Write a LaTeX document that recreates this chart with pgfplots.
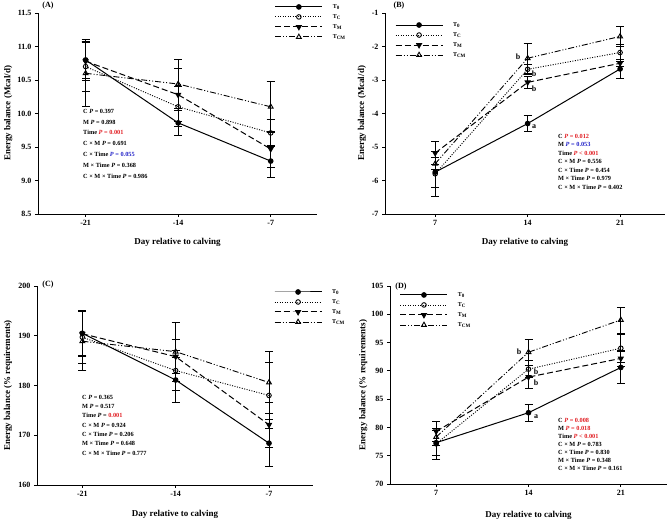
\documentclass[border=0pt]{standalone}
\usepackage{pgfplots}
\pgfplotsset{compat=1.18}
\usepackage{fontspec}
\setmainfont{Liberation Serif}
\definecolor{pred}{RGB}{225,30,35}
\definecolor{pblue}{RGB}{35,35,200}

\pgfplotsset{
  panel/.style={
    scale only axis,
    axis x line*=bottom, axis y line*=left,
    axis line style={line width=0.9pt},
    tick align=outside, major tick length=3pt,
    tick style={black, line width=0.8pt},
    /pgf/number format/assume math mode=true,
    ticklabel style={font=\fontsize{8}{9}\selectfont\bfseries},
    label style={font=\fontsize{9}{10}\selectfont\bfseries},
    xlabel={Day relative to calving},
    clip=false,
    legend cell align=left,
    legend image code/.code={
      \draw[mark repeat=2,mark phase=2,##1] plot coordinates {(0pt,0pt) (23.5pt,0pt) (47pt,0pt)};
      \path (0pt,0pt) (57pt,0pt);
    },
  },
  lg/.style 2 args={legend style={at={(axis description cs:#1,#2)}, anchor=north west,
    draw=none, fill=none, inner sep=0pt, outer sep=0pt, row sep=0pt,
    font=\fontsize{6}{7}\selectfont\bfseries,
    nodes={inner sep=0pt, minimum height=10pt}}},
  s0/.style={black, line width=1pt, solid, mark=*, mark size=2.3pt, mark options={solid, fill=black}},
  sC/.style={black, line width=0.9pt, dash pattern=on 1pt off 1.5pt, mark=o, mark size=2.3pt, mark options={solid, fill=white}},
  sM/.style={black, line width=1pt, dash pattern=on 6pt off 3pt, mark=triangle*, mark size=2.8pt, mark options={solid, fill=black, rotate=180}},
  sCM/.style={black, line width=0.9pt, dash pattern=on 6pt off 2pt on 1pt off 2pt on 1pt off 2pt, mark=triangle, mark size=2.8pt, mark options={solid, fill=white}},
  eb/.style={error bars/.cd, y dir=both, y explicit,
    error bar style={solid, line width=0.8pt, black},
    error mark=-,
    error mark options={rotate=90, solid, line width=0.8pt, mark size=4pt, black}},
}

\begin{document}
\begin{tikzpicture}[x=1pt,y=1pt]
\path[use as bounding box] (0,0) rectangle (670,522);

% ---------------- (A) ----------------
\begin{axis}[panel, at={(38pt,308pt)}, anchor=south west, width=279pt, height=201pt,
  xmin=-24.6, xmax=-3.5, ymin=8.5, ymax=11.5,
  xtick={-21,-14,-7}, xticklabels={-21,-14,-7},
  ytick={8.5,9.0,...,11.5},
  yticklabel style={/pgf/number format/.cd, fixed, fixed zerofill, precision=1},
  ylabel={Energy balance (Mcal/d)},
  xlabel style={at={(axis description cs:0.5,-0.14)}, anchor=center},
  ylabel style={at={(axis description cs:-0.107,0.5)}, anchor=center},
  lg={0.849}{1.055}]
\addplot[s0, eb] table[x=x, y=y, y error=e] {
x y e
-21 10.80 0.28
-14 9.86 0.19
-7 9.29 0.24
};
\addplot[sC, eb] table[x=x, y=y, y error=e] {
x y e
-21 10.70 0.37
-14 10.10 0.30
-7 9.71 0.20
};
\addplot[sM, eb] table[x=x, y=y, y error=e] {
x y e
-21 10.78 0.28
-14 10.28 0.40
-7 9.47 0.27
};
\addplot[sCM, eb] table[x=x, y=y, y error=e] {
x y e
-21 10.60 0.50
-14 10.44 0.36
-7 10.10 0.38
};
\legend{T\textsubscript{0}, T\textsubscript{C}, T\textsubscript{M}, T\textsubscript{CM}}
\end{axis}

% ---------------- (B) ----------------
\begin{axis}[panel, at={(385pt,308pt)}, anchor=south west, width=280pt, height=201pt,
  xmin=3.2, xmax=24.4, ymin=-7, ymax=-1,
  xtick={7,14,21},
  ytick={-7,-6,...,-1},
  ylabel={Energy balance (Mcal/d)},
  xlabel style={at={(axis description cs:0.5,-0.14)}, anchor=center},
  ylabel style={at={(axis description cs:-0.082,0.5)}, anchor=center},
  lg={0.036}{0.965}]
\addplot[s0, eb] table[x=x, y=y, y error=e] {
x y e
7 -5.75 0.45
14 -4.30 0.23
21 -2.67 0.28
};
\addplot[sC, eb] table[x=x, y=y, y error=e] {
x y e
7 -5.80 0.68
14 -2.68 0.15
21 -2.18 0.25
};
\addplot[sM, eb] table[x=x, y=y, y error=e] {
x y e
7 -5.18 0.35
14 -3.07 0.18
21 -2.50 0.10
};
\addplot[sCM, eb] table[x=x, y=y, y error=e] {
x y e
7 -5.50 0.18
14 -2.35 0.45
21 -1.70 0.30
};
\legend{T\textsubscript{0}, T\textsubscript{C}, T\textsubscript{M}, T\textsubscript{CM}}
\end{axis}

% ---------------- (C) ----------------
\begin{axis}[panel, at={(37pt,37pt)}, anchor=south west, width=276pt, height=199pt,
  xmin=-24.4, xmax=-3.7, ymin=160, ymax=200,
  xtick={-21,-14,-7}, xticklabels={-21,-14,-7},
  ytick={160,170,...,200},
  ylabel={Energy balance (\% requirements)},
  xlabel style={at={(axis description cs:0.5,-0.15)}, anchor=center},
  ylabel style={at={(axis description cs:-0.105,0.5)}, anchor=center},
  lg={0.859}{0.995}]
\addplot[s0, eb] table[x=x, y=y, y error=e] {
x y e
-21 190.5 4.5
-14 181.1 4.5
-7 168.4 4.7
};
\addplot[sC, eb] table[x=x, y=y, y error=e] {
x y e
-21 189.7 5.3
-14 183.0 4.0
-7 178.0 6.7
};
\addplot[sM, eb] table[x=x, y=y, y error=e] {
x y e
-21 190.4 4.6
-14 185.8 3.4
-7 172.1 4.5
};
\addplot[sCM, eb] table[x=x, y=y, y error=e] {
x y e
-21 188.9 5.9
-14 186.8 5.9
-7 180.6 6.2
};
\legend{T\textsubscript{0}, T\textsubscript{C}, T\textsubscript{M}, T\textsubscript{CM}}
\end{axis}

% ---------------- (D) ----------------
\begin{axis}[panel, at={(390pt,38pt)}, anchor=south west, width=277pt, height=198pt,
  xmin=3.5, xmax=24.5, ymin=70, ymax=105,
  xtick={7,14,21},
  ytick={70,75,...,105},
  ylabel={Energy balance (\% requirements)},
  xlabel style={at={(axis description cs:0.5,-0.16)}, anchor=center},
  ylabel style={at={(axis description cs:-0.097,0.5)}, anchor=center},
  lg={0.036}{0.98}]
\addplot[s0, eb] table[x=x, y=y, y error=e] {
x y e
7 77.3 2.2
14 82.6 1.5
21 90.6 2.8
};
\addplot[sC, eb] table[x=x, y=y, y error=e] {
x y e
7 77.1 2.7
14 90.3 1.5
21 94.0 2.5
};
\addplot[sM, eb] table[x=x, y=y, y error=e] {
x y e
7 79.3 1.8
14 88.9 2.0
21 92.2 1.5
};
\addplot[sCM, eb] table[x=x, y=y, y error=e] {
x y e
7 78.3 1.5
14 93.3 2.3
21 99.0 2.3
};
\legend{T\textsubscript{0}, T\textsubscript{C}, T\textsubscript{M}, T\textsubscript{CM}}
\end{axis}

% panel titles
\begin{scope}[every node/.style={font=\fontsize{8}{9}\selectfont\bfseries}]
\node at (48,516) {(A)};
\node at (399,516) {(B)};
\node at (48,237) {(C)};
\node at (401,235) {(D)};
% letters
\node at (518,465) {b};
\node at (534,448) {b};
\node at (534,433) {b};
\node at (534,395) {a};
\node at (519,170) {b};
\node at (536,150) {b};
\node at (536,139) {b};
\node at (536,105) {a};
\end{scope}

% statistics
\node[anchor=north west, align=left, inner sep=0pt, font=\fontsize{6.3}{10.8}\selectfont\bfseries] at (83,413) {%
C \textit{P} = 0.397\\
M \textit{P} = 0.898\\
Time {\color{pred}\textit{P} = 0.001}\\
C × M \textit{P} = 0.691\\
C × Time {\color{pblue}\textit{P} = 0.055}\\
M × Time \textit{P} = 0.368\\
C × M × Time \textit{P} = 0.986};

\node[anchor=north west, align=left, inner sep=0pt, font=\fontsize{6.3}{8.5}\selectfont\bfseries] at (558,388) {%
C {\color{pred}\textit{P} = 0.012}\\
M {\color{pblue}\textit{P} = 0.053}\\
Time {\color{pred}\textit{P} < 0.001}\\
C × M \textit{P} = 0.556\\
C × Time \textit{P} = 0.454\\
M × Time \textit{P} = 0.979\\
C × M × Time \textit{P} = 0.402};

\node[anchor=north west, align=left, inner sep=0pt, font=\fontsize{6.3}{9.3}\selectfont\bfseries] at (82,127) {%
C \textit{P} = 0.365\\
M \textit{P} = 0.517\\
Time \textit{P} = {\color{pred}0.001}\\
C × M \textit{P} = 0.924\\
C × Time \textit{P} = 0.206\\
M × Time \textit{P} = 0.648\\
C × M × Time \textit{P} = 0.777};

\node[anchor=north west, align=left, inner sep=0pt, font=\fontsize{6.3}{8}\selectfont\bfseries] at (558,104) {%
C {\color{pred}\textit{P} = 0.008}\\
M {\color{pred}\textit{P} = 0.018}\\
Time {\color{pred}\textit{P} < 0.001}\\
C × M \textit{P} = 0.783\\
C × Time \textit{P} = 0.830\\
M × Time \textit{P} = 0.348\\
C × M × Time \textit{P} = 0.161};

\end{tikzpicture}
\end{document}
